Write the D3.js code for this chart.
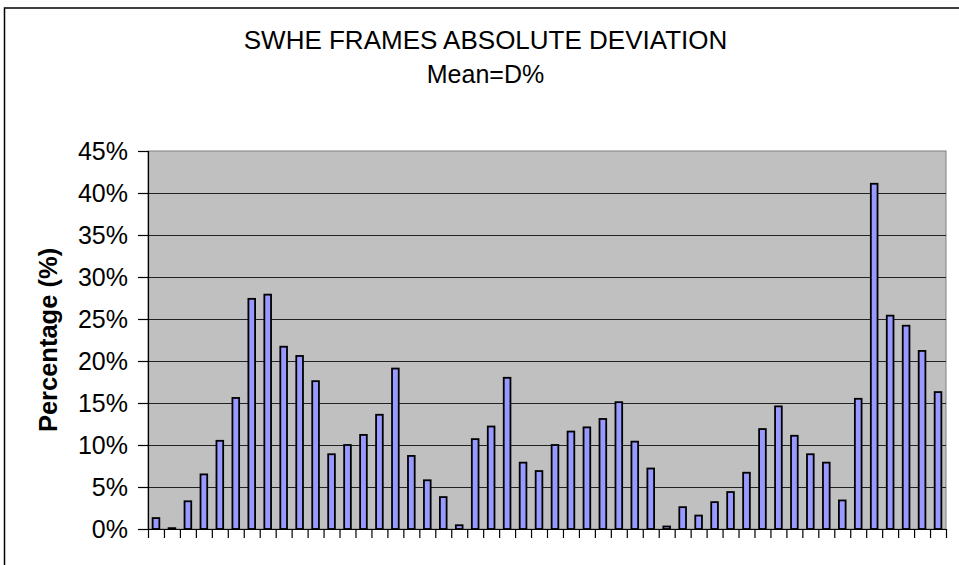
<!DOCTYPE html>
<html>
<head>
<meta charset="utf-8">
<script src="https://cdn.jsdelivr.net/npm/d3@7"></script>
<style>
  html, body { margin: 0; padding: 0; background: #ffffff; }
  svg { display: block; font-family: Arial, "Liberation Sans", sans-serif; }
</style>
</head>
<body>
<svg id="chart" width="959" height="565"></svg>
<script>
// Frame numbers along the x axis (no labels are printed for them)
const frames = d3.range(1, 51);

// Absolute deviation per frame, in percent
const deviation = [
  1.3, 0.1, 3.3, 6.5, 10.5, 15.6, 27.4, 27.9, 21.7, 20.6,
  17.6, 8.9, 10.0, 11.2, 13.6, 19.1, 8.7, 5.8, 3.8, 0.45,
  10.7, 12.2, 18.0, 7.9, 6.9, 10.0, 11.6, 12.1, 13.1, 15.1,
  10.4, 7.2, 0.3, 2.6, 1.6, 3.2, 4.4, 6.7, 11.9, 14.6,
  11.1, 8.9, 7.9, 3.4, 15.5, 41.1, 25.4, 24.2, 21.2, 16.3
];

// Y axis ticks (percent)
const yTicks = [0, 5, 10, 15, 20, 25, 30, 35, 40, 45];

const titleLines = ["SWHE FRAMES ABSOLUTE DEVIATION", "Mean=D%"];
const yTitle = "Percentage (%)";

const svg = d3.select("#chart");

const plot = { left: 148, right: 946, top: 151, bottom: 529 };

const x = d3.scaleBand()
  .domain(frames)
  .range([plot.left, plot.right])
  .paddingInner(0.58)
  .paddingOuter(0.29);

const y = d3.scaleLinear()
  .domain([0, 45])
  .range([plot.bottom, plot.top]);

// outer chart frame (runs past the right and bottom edges)
svg.append("rect")
  .attr("x", 4.5).attr("y", 8)
  .attr("width", 1000).attr("height", 600)
  .attr("fill", "#ffffff")
  .attr("stroke", "#000000")
  .attr("stroke-width", 1.5);

// plot background
svg.append("rect")
  .attr("x", plot.left).attr("y", plot.top)
  .attr("width", plot.right - plot.left)
  .attr("height", plot.bottom - plot.top)
  .attr("fill", "#c0c0c0")
  .attr("stroke", "#808080")
  .attr("stroke-width", 1);

// horizontal gridlines
svg.append("g")
  .selectAll("line")
  .data(yTicks.filter(d => d > 0 && d < 45))
  .join("line")
  .attr("x1", plot.left).attr("x2", plot.right)
  .attr("y1", d => Math.round(y(d)) + 0.5)
  .attr("y2", d => Math.round(y(d)) + 0.5)
  .attr("stroke", "#222222")
  .attr("stroke-width", 1);

// bars
svg.append("g")
  .selectAll("rect")
  .data(frames.map((f, i) => ({ f, v: deviation[i] })))
  .join("rect")
  .attr("x", d => x(d.f))
  .attr("y", d => y(d.v))
  .attr("width", x.bandwidth())
  .attr("height", d => y(0) - y(d.v))
  .attr("fill", "#9999ff")
  .attr("stroke", "#000000")
  .attr("stroke-width", 1.8);

// y axis
const yAxis = d3.axisLeft(y)
  .tickValues(yTicks)
  .tickSize(10)
  .tickPadding(10)
  .tickFormat(d => d + "%");

const gy = svg.append("g")
  .attr("transform", `translate(${plot.left},0)`)
  .call(yAxis);
gy.select(".domain").attr("stroke", "#000").attr("stroke-width", 1.2);
gy.selectAll(".tick line").attr("stroke", "#000").attr("stroke-width", 1.2);
gy.selectAll(".tick text")
  .attr("fill", "#000")
  .style("font-size", "25px")
  .style("font-family", "Arial, 'Liberation Sans', sans-serif");

// x axis: tick marks on category boundaries, no labels
const xb = d3.scaleLinear().domain([0, frames.length]).range([plot.left, plot.right]);
const xAxis = d3.axisBottom(xb)
  .tickValues(d3.range(0, frames.length + 1))
  .tickSize(9)
  .tickSizeOuter(0)
  .tickFormat("");
const gx = svg.append("g")
  .attr("transform", `translate(0,${plot.bottom})`)
  .call(xAxis);
gx.select(".domain").attr("stroke", "#000").attr("stroke-width", 1.2);
gx.selectAll(".tick line").attr("stroke", "#000").attr("stroke-width", 1.2);

// titles
svg.append("text")
  .attr("x", 485.5).attr("y", 49)
  .attr("text-anchor", "middle")
  .style("font-size", "26px")
  .attr("fill", "#000")
  .text(titleLines[0]);
svg.append("text")
  .attr("x", 485.5).attr("y", 83)
  .attr("text-anchor", "middle")
  .style("font-size", "25px")
  .attr("fill", "#000")
  .text(titleLines[1]);

svg.append("text")
  .attr("transform", "translate(57,340) rotate(-90)")
  .attr("text-anchor", "middle")
  .style("font-size", "25.5px")
  .style("font-weight", "bold")
  .attr("fill", "#000")
  .text(yTitle);
</script>
</body>
</html>
